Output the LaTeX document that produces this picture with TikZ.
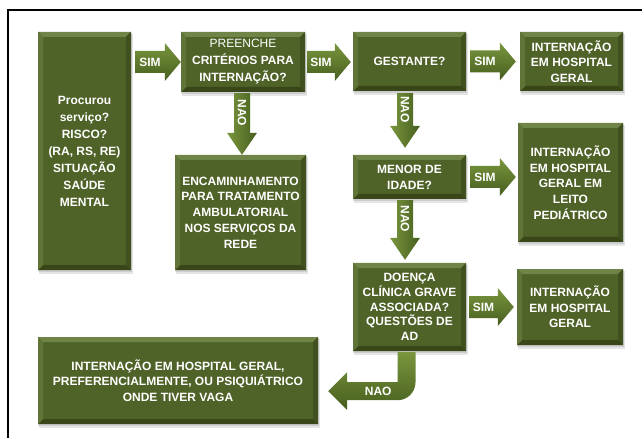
\documentclass[tikz,border=0pt]{standalone}
\usepackage{fontspec}
\setmainfont{Liberation Sans}
\usetikzlibrary{calc}
\definecolor{boxg}{RGB}{79,98,40}
\definecolor{bevT}{RGB}{112,132,72}
\definecolor{bevL}{RGB}{96,116,56}
\definecolor{bevR}{RGB}{64,80,30}
\definecolor{bevB}{RGB}{56,70,24}
\definecolor{arrL}{RGB}{122,150,62}
\definecolor{arrD}{RGB}{70,94,30}
\tikzset{
  txt/.style={text=white,font=\bfseries\fontsize{12}{15.7}\selectfont,align=center},
  gboxst/.style={txt,fill=boxg,inner sep=0pt,
    path picture={
      \coordinate (q1) at (path picture bounding box.north west);
      \coordinate (q2) at (path picture bounding box.north east);
      \coordinate (q3) at (path picture bounding box.south east);
      \coordinate (q4) at (path picture bounding box.south west);
      \fill[bevT] (q1) -- (q2) -- ([shift={(-5pt,-5pt)}]q2) -- ([shift={(5pt,-5pt)}]q1) -- cycle;
      \fill[bevR] (q2) -- (q3) -- ([shift={(-5pt,5pt)}]q3) -- ([shift={(-5pt,-5pt)}]q2) -- cycle;
      \fill[bevB] (q3) -- (q4) -- ([shift={(5pt,5pt)}]q4) -- ([shift={(-5pt,5pt)}]q3) -- cycle;
      \fill[bevL] (q4) -- (q1) -- ([shift={(5pt,-5pt)}]q1) -- ([shift={(5pt,5pt)}]q4) -- cycle;
    }},
  wide/.style={font=\bfseries\fontsize{12}{17}\selectfont},
  tight/.style={font=\bfseries\fontsize{12}{14.8}\selectfont},
  shd/.style={fill=black,opacity=0.1},
  harr/.style={top color=arrL,bottom color=arrD},
  varr/.style={left color=arrL,right color=arrD},
  lbl/.style={text=white,font=\bfseries\fontsize{12}{13}\selectfont,inner sep=0pt},
  frame/.style={line width=2pt,black}
}
\newcommand\gbox[7][]{%
  \fill[shd] (#3,#4+1) rectangle (#5+1,#6+2);
  \fill[shd] (#3+1,#4+2) rectangle (#5+2,#6+4);
  \node[gboxst,#1,minimum width={(#5-#3)*1pt},minimum height={(#6-#4)*1pt}] (#2) at ({(#3+#5)/2},{(#4+#6)/2}) {#7};}
\newcommand\harrow[3]{%
  \shade[harr] let \p1=#1,\p2=#2 in (\x1,\y1+11pt) -- (\x2-16pt,\y1+11pt) -- (\x2-16pt,\y1+19pt) -- (\x2,\y1) -- (\x2-16pt,\y1-19pt) -- (\x2-16pt,\y1-11pt) -- (\x1,\y1-11pt) -- cycle;
  \path let \p1=#1,\p2=#2 in node[lbl] at ({(\x1+\x2)/2-8pt},\y1) {#3};}
\newcommand\varrow[3]{%
  \shade[varr] let \p1=#1,\p2=#2 in (\x1-8pt,\y1) -- (\x1+8pt,\y1) -- (\x1+8pt,\y2+22pt) -- (\x1+15pt,\y2+22pt) -- (\x1,\y2) -- (\x1-15pt,\y2+22pt) -- (\x1-8pt,\y2+22pt) -- cycle;
  \path let \p1=#1,\p2=#2 in node[lbl,rotate=-90] at (\x1,{(\y1+\y2)/2+11pt}) {#3};}
\begin{document}
\begin{tikzpicture}[x=1pt,y=-1pt]
\useasboundingbox (0,0) rectangle (642,438);
\fill[white] (0,0) rectangle (642,438);
\draw[frame] (642,10) -- (8,10) -- (8,438);
\gbox[wide]{b0}{38}{32}{131}{270}{Procurou\\serviço?\\RISCO?\\(RA, RS, RE)\\SITUAÇÃO\\SAÚDE\\MENTAL}
\gbox[wide]{b1}{181}{32}{305}{92}{{\mdseries PREENCHE}\\CRITÉRIOS PARA\\INTERNAÇÃO?}
\gbox{b2}{175}{155}{306}{270}{ENCAMINHAMENTO\\PARA TRATAMENTO\\AMBULATORIAL\\NOS SERVIÇOS DA\\REDE}
\gbox{b3}{353}{32}{466}{91}{GESTANTE?}
\gbox{b4}{520}{32}{623}{91}{INTERNAÇÃO\\EM HOSPITAL\\GERAL}
\gbox{b5}{353}{155}{466}{199}{MENOR DE\\IDADE?}
\gbox{b6}{518}{123}{623}{242}{INTERNAÇÃO\\EM HOSPITAL\\GERAL EM\\LEITO\\PEDIÁTRICO}
\gbox[tight]{b7}{353}{263}{466}{351}{DOENÇA\\CLÍNICA GRAVE\\ASSOCIADA?\\QUESTÕES DE\\AD}
\gbox{b8}{517}{269}{623}{345}{INTERNAÇÃO\\EM HOSPITAL\\GERAL}
\gbox{b9}{38}{337}{318}{424}{INTERNAÇÃO EM HOSPITAL GERAL,\\PREFERENCIALMENTE, OU PSIQUIÁTRICO\\ONDE TIVER VAGA}
% horizontal connectors
\harrow{($(b0.east|-b1.west)+(4pt,0pt)$)}{(b1.west)}{SIM}
\harrow{($(b1.east)+(2pt,0pt)$)}{($(b3.west)+(-2pt,0pt)$)}{SIM}
\harrow{($(b3.east)+(4pt,0pt)$)}{($(b4.west)+(-4pt,0pt)$)}{SIM}
\harrow{($(b5.east)+(4pt,0pt)$)}{($(b6.west|-b5.east)+(-2pt,0pt)$)}{SIM}
\harrow{($(b7.east)+(3pt,0pt)$)}{($(b8.west|-b7.east)+(-3pt,0pt)$)}{SIM}
% vertical connectors
\varrow{($(b1.south)+(-1pt,-1pt)$)}{($(b1.south|-b2.north)+(-1pt,0pt)$)}{NAO}
\varrow{($(b3.south)+(-4.5pt,-2pt)$)}{($(b3.south|-b5.north)+(-4.5pt,7pt)$)}{NAO}
\varrow{($(b5.south)+(-4.5pt,-1pt)$)}{($(b5.south|-b7.north)+(-4.5pt,3pt)$)}{NAO}
% bent connector
\shade[harr] let \p1=(b7.south),\p2=(b9.east) in
  (\x1-12pt,\y1-1pt) -- (\x1-12pt,\y1-31pt) -- (\x2+29pt,\y1-31pt) -- (\x2+29pt,\y1-21pt)
  -- (\x2+10pt,\y1-40pt) -- (\x2+29pt,\y1-59pt) -- (\x2+29pt,\y1-49pt) -- (\x1-12pt,\y1-49pt)
  .. controls (\x1-2pt,\y1-49pt) and (\x1+6pt,\y1-41pt) .. (\x1+6pt,\y1-31pt)
  -- (\x1+6pt,\y1-1pt) -- cycle;
\path let \p1=(b7.south),\p2=(b9.east) in node[lbl] at (\x2+60pt,\y1-40pt) {NAO};
\end{tikzpicture}
\end{document}
